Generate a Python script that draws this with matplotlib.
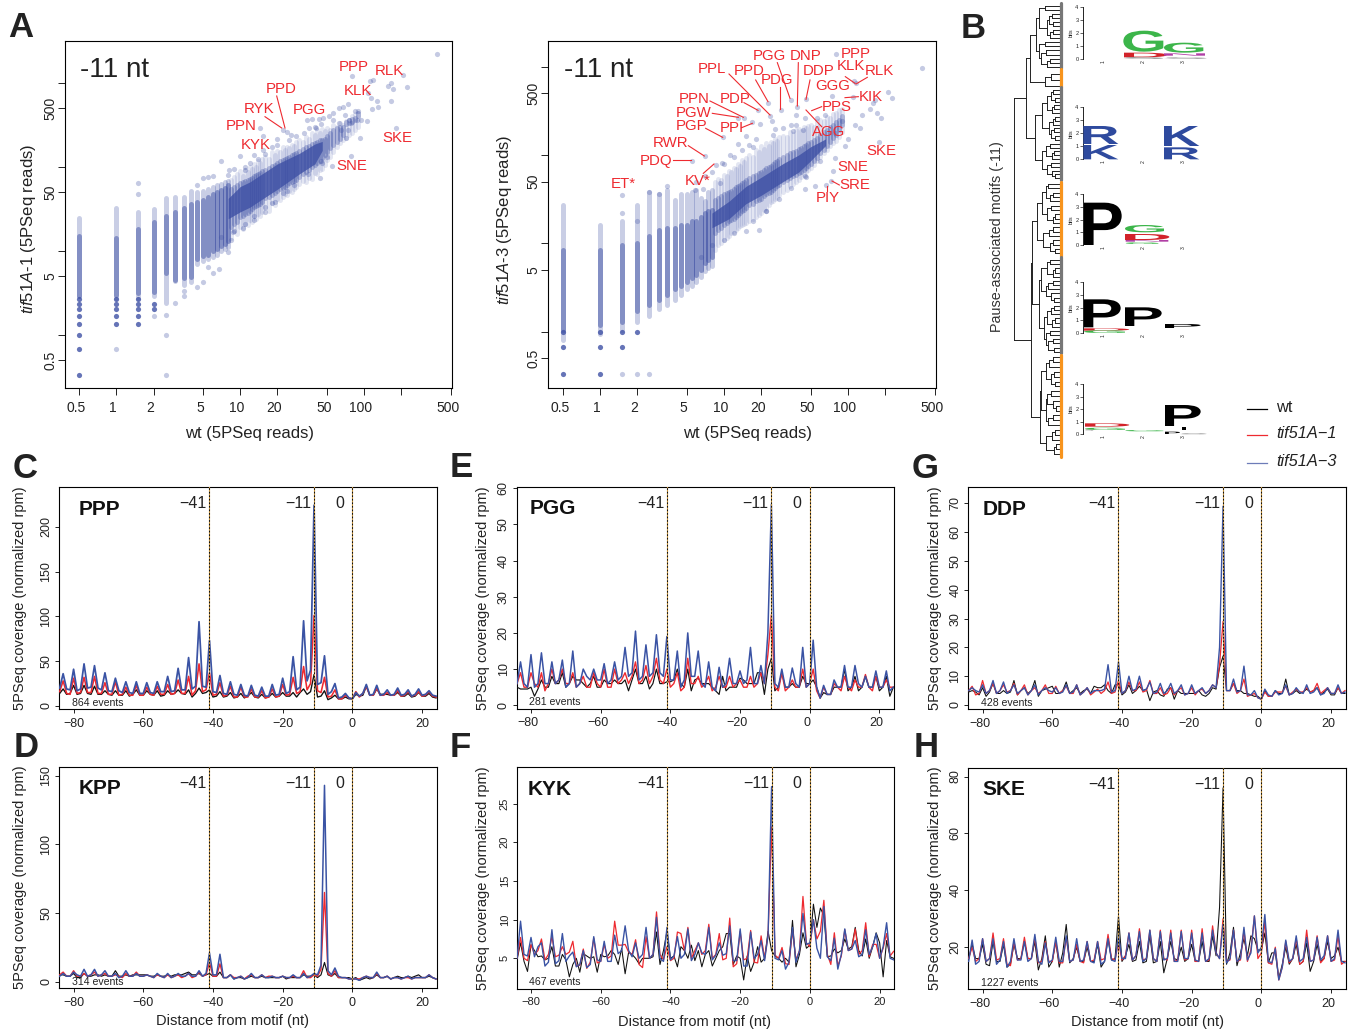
import numpy as np
import matplotlib
matplotlib.use('Agg')
import matplotlib.pyplot as plt
from matplotlib.patheffects import AbstractPathEffect
from matplotlib.transforms import Affine2D, ScaledTranslation

plt.rcParams['font.family'] = ['Liberation Sans', 'DejaVu Sans']
plt.rcParams['mathtext.fontset'] = 'custom'
plt.rcParams['mathtext.it'] = 'Liberation Sans:italic'
plt.rcParams['mathtext.rm'] = 'Liberation Sans'
plt.rcParams['axes.linewidth'] = 0.8
plt.rcParams['text.color'] = '#222222'
plt.rcParams['xtick.color'] = '#222222'
plt.rcParams['ytick.color'] = '#222222'
plt.rcParams['axes.labelcolor'] = '#222222'

# ---------------- scatter data (wt vs tif51A-1) ----------------
COL_X = [0.5, 1, 1.5, 2, 2.5, 3, 3.5, 4, 4.5, 5, 5.5, 6, 6.5, 7, 7.5, 8]
A_SPARSE_HI = [24.5, 32, 29, 31, 42, 44, 44, 51, 50, 52, 55, 58, 60, 62, 65, 68]
A_DENSE_HI = [14.8, 14, 18, 22, 26, 29, 32, 36, 38, 40, 44, 47, 50, 53, 56, 60]
A_DENSE_LO = [2.9, 3.0, 3.1, 3.2, 5.4, 4.5, 4.7, 4.9, 8, 8.6, 9, 10, 10.5, 11.3, 12, 13]
A_SPARSE_LO = [2.9, 2.7, 2.7, 2.9, 2.4, 4.4, 3.9, 4.2, 7, 7.5, 8, 8.5, 9, 10, 10.5, 11]
BIN_X = [8.5, 9, 9.5, 10, 10.5, 11, 11.5, 12, 12.5, 13, 13.5, 14, 14.5, 15, 16, 17, 18, 19, 20, 21, 22, 23, 24, 25, 26,
         27, 28, 30, 32, 34, 36, 38, 40, 42, 44, 46, 48, 50, 53, 56, 60, 64, 68, 72, 76, 80, 85, 90]
A_HALO_HI = [70, 76, 82, 88, 78, 92, 86, 100, 94, 108, 100, 118, 110, 122, 130, 125, 150, 138, 155, 148, 170, 160, 172,
             165, 182, 176, 195, 205, 195, 225, 215, 250, 240, 270, 255, 280, 265, 290, 270, 310, 300, 330, 310, 350,
             330, 400, 420, 440]
A_HALO_LO = [14, 17, 16, 19, 18, 21, 20, 23, 22, 26, 24, 27, 26, 29, 32, 30, 37, 35, 41, 40, 44, 47, 46, 52, 50, 55, 58,
             62, 68, 66, 74, 72, 84, 82, 92, 95, 105, 120, 130, 150, 170, 190, 210, 220, 240, 250, 270, 300]
A_DENSE2_HI = [55, 58, 60, 64, 66, 68, 70, 72, 74, 78, 80, 82, 84, 88, 92, 96, 102, 106, 112, 116, 120, 122, 128, 132,
               138, 140, 146, 155, 162, 170, 178, 186, 192, 198, 205, 210, 215, 235, 255, 270, 285, 295, 300, 340, 355,
               365, 380, 430]
A_DENSE2_LO = [19, 21, 22, 25, 26, 27, 28, 30, 31, 33, 34, 35, 36, 38, 42, 44, 46, 48, 52, 54, 56, 58, 60, 64, 66, 68,
               70, 76, 82, 86, 92, 98, 104, 110, 118, 126, 138, 150, 165, 180, 195, 215, 240, 320, 335, 345, 360, 400]
A_CORE_X = [8, 10, 12, 15, 20, 30, 40, 46]
A_CORE_HI = [42, 58, 66, 82, 108, 144, 186, 200]
A_CORE_LO = [24, 29, 33, 41, 54, 82, 108, 156]
A_STACK_X = [.5, .5, .5, .5, .5, .5, .5, .5, 1, 1, 1, 1, 1, 1.5, 1.5, 1.5, 1.5, 1.5, 2, 2]
A_STACK_Y = [.33, .67, 1, 1.33, 1.67, 2, 2.33, 2.67, 1.33, 1.67, 2, 2.33, 2.67, 1.33, 1.67, 2, 2.33, 2.67, 2, 2.33]
A_OUT_X = [388, 80.5, 118, 112, 208, 156, 166, 170, 221, 107, 113, 127, 166, 129, 115, 74, 63, 68, 105, 180, 92, 72,
           78, 55, 44, 46, 22, 19, 15.8, 12.9, 10.5, 8.8, 8.4, 8, 6.8, 6, 5.5, 5, 4.5, 3.5, 3.5, 3, 2, 2.5, 2.5, 1,
           1.5, 1.5, 2.5, 7, 10, 14.4, 15.3, 19.7, 22, 24, 25.5, 15.3, 13, 8.2, 5, 5.5, 4.5, 11, 34.7, 38, 43, 47, 52,
           36, 41, 56, 56, 70, 76, 85, 90, 87, 95, 74, 65, 79, 63,
           7, 9, 11, 13, 16, 18, 24, 27, 35, 45, 50, 6, 8, 9, 11, 12, 14, 16, 18, 20, 25, 28, 33, 40, 45]
A_OUT_Y = [2213, 1213, 1087, 1040, 1230, 925, 1000, 850, 900, 755, 650, 610, 610, 520, 485, 565, 500, 515, 348, 285,
           220, 218, 135, 101, 73, 110, 49, 38, 29, 23, 18.7, 16.8, 13.3, 9.6, 6, 5.4, 6.4, 4.3, 3.7, 3.3, 2.9, 2.4,
           1.67, 1, .33, .67, 64, 47, 1.7, 118, 133, 288, 234, 215, 275, 257, 238, 160, 139, 92, 73, 75, 61, 92, 363,
           368, 368, 380, 398, 290, 290, 363, 435, 415, 363, 456, 456, 363, 363, 275, 275, 330, 330,
           14.5, 17, 21, 26, 33, 37, 52, 60, 82, 118, 130, 78, 80, 95, 100, 110, 125, 140, 170, 180, 205, 230, 250, 300, 320]

# ---------------- scatter data (wt vs tif51A-3) ----------------
B_SPARSE_HI = [27, 16, 18, 27, 38, 36, 40, 31, 36, 36, 38, 40, 33, 30, 38, 40]
B_DENSE_HI = [8.4, 8.4, 9.6, 10, 12, 14, 15, 15, 16, 16, 18, 18, 20, 22, 23, 24]
B_DENSE_LO = [1.04, 1.2, 1.3, 1.7, 2, 2.3, 2.6, 3, 3.3, 3.6, 4, 4.4, 5, 6, 6.5, 7]
B_SPARSE_LO = [.8, .95, 1.04, 1.3, 1.5, 1.8, 2, 2.3, 2.6, 3, 3.3, 3.6, 4.2, 4.8, 5.3, 5.5]
B_HALO_HI = [50, 54, 52, 60, 58, 66, 64, 72, 70, 80, 76, 88, 84, 92, 100, 96, 115, 108, 125, 118, 135, 128, 140, 135,
             150, 145, 160, 165, 160, 180, 175, 190, 195, 185, 205, 200, 215, 220, 210, 240, 250, 245, 270, 265, 290,
             300, 320, 330]
B_HALO_LO = [8.5, 9.5, 10, 11, 11.5, 12, 13, 13.5, 14, 15, 15.5, 16, 16.5, 17, 18, 19, 20, 21, 22, 24, 25, 27, 29, 30,
             32, 33, 35, 38, 40, 44, 47, 50, 52, 56, 60, 65, 68, 72, 78, 85, 95, 105, 115, 125, 135, 145, 160, 180]
B_DENSE2_HI = [31, 33, 34, 36, 37, 38, 39, 41, 43, 45, 46, 48, 50, 52, 55, 58, 60, 63, 65, 68, 72, 74, 76, 80, 84, 86,
               90, 95, 100, 104, 108, 112, 116, 120, 125, 130, 135, 140, 148, 155, 170, 180, 190, 205, 220, 235, 250, 275]
B_DENSE2_LO = [13, 14, 15, 16, 17, 18, 18.5, 19, 20, 21, 22, 23, 24, 25, 27, 28, 30, 31, 32, 34, 36, 37, 38, 40, 42, 44,
               46, 49, 52, 55, 58, 60, 62, 65, 68, 72, 76, 80, 86, 92, 105, 115, 125, 140, 155, 170, 190, 220]
B_CORE_X = [8, 11, 15, 20, 30, 40, 50, 66]
B_CORE_HI = [22, 30, 44, 56, 80, 100, 124, 152]
B_CORE_LO = [15, 19, 28, 35, 50, 64, 86, 128]
B_STACK_X = [.5, .5, .5, 1, 1, 1, 1.5, 1.5, 2]
B_STACK_Y = [.33, .67, 1, .33, .67, 1, .67, 1, 1]
B_OUT_X = [393, 80, 116, 112, 209, 225, 165, 158, 109, 74, 46, 34.5, 22.6, 39, 28.6, 18.8, 23.5, 24.6, 14.5, 13, 16.9,
           19.5, 25.7, 9.8, 7, 5.5, 1.5, 3.5, 3, 2.5, 9.6, 8.7, 13, 11.2, 17, 15, 179, 78, 76, 73, 67, 54, 45, 46, 95,
           79, 114, 129, 89, 65, 38, 45, 56, 38, 43, 36, 19, 15, 22, 6.8, 5.8, 9.3, 1.5, 2, 2.5, 1.5, 2,
           6, 7, 8, 10, 12, 14, 16, 18, 25, 30, 35, 6.5, 8, 10, 12, 17, 22, 28, 35, 45, 60, 150, 170, 185, 125, 100]
B_OUT_Y = [957, 1393, 650, 690, 513, 437, 417, 390, 450, 470, 427, 417, 390, 354, 320, 320, 280, 245, 265, 265, 237,
           222, 197, 159, 97, 85, 35, 45, 36, 38, 82, 77, 132, 100, 123, 165, 141, 92, 66, 51, 46, 45, 41, 57, 125,
           176, 217, 281, 245, 281, 281, 260, 260, 218, 192, 187, 14, 13.6, 23, 41, 40, 48, .33, .33, .33, 22, 18,
           50, 58, 65, 80, 95, 115, 130, 150, 170, 200, 220, 7, 9.5, 11, 13, 18, 23, 32, 42, 58, 85, 330, 300, 260, 200, 150]

# ---------------- profile data, x = -84 ... 24 ----------------
POS = list(range(-84, 25))
C_BLUE = [20, 36,19,18, 41,17,19, 47,20,21, 45,20,18, 37,17,16, 31,17,15, 27,15,14, 27,14,14, 26,15,14, 27,16,16,
          33,16,17, 42,18,18, 54,19,22, 94,22,21, 73,16,15, 34,14,13, 27,13,12, 24,12,11, 23,12,11, 21,11,11, 24,12,13,
          31,14,16, 55,18,21, 95,28,40, 224,24,26, 56,13,16, 25,9,10, 14,9,8, 15,11,14, 24,12,13, 23,12,13, 18,12,13,
          20,12,13, 18,11,13, 19,12,13, 17,12,11]
C_RED = [16, 28,14,13, 31,14,15, 32,15,15, 33,14,14, 26,13,13, 27,12,13, 21,12,12, 23,12,12, 21,13,12, 22,13,13,
         24,13,14, 29,14,14, 33,12,17, 47,16,18, 37,12,13, 26,11,12, 22,10,10, 21,10,10, 19,10,10, 17,9,10, 19,10,11,
         24,12,13, 32,14,16, 44,18,25, 101,17,15, 32,10,11, 18,8,8, 12,9,8, 16,10,14, 22,12,12, 20,12,12, 15,12,12,
         17,11,12, 16,11,12, 16,11,12, 16,11,10]
C_BLACK = [14, 19,13,14, 23,13,14, 23,14,13, 22,13,13, 17,13,12, 17,12,12, 17,11,13, 18,12,12, 17,13,12, 17,11,12,
           17,13,14, 18,14,13, 18,10,14, 20,14,15, 18,10,11, 16,10,11, 15,9,10, 14,9,11, 15,10,9, 13,9,10, 14,10,11,
           15,11,11, 15,10,15, 19,13,16, 35,10,11, 17,7,9, 12,8,8, 10,8,8, 13,11,12, 22,12,12, 19,13,13, 13,12,12,
           15,11,11, 14,10,11, 15,11,11, 14,10,9]
D_BLUE = [4, 6,4,4, 7,5,4, 9,4,5, 9,4,5, 8,4,4, 6,3,4, 8,4,4, 6,4,4, 5,4,3, 6,4,3, 6,3,4, 6,4,4, 6,4,4, 8,4,6,
          21,5,5, 20,3,3, 5,2,3, 4,2,3, 6,3,3, 5,3,3, 4,3,3, 4,3,3, 5,3,3, 6,3,4, 6,5,12, 143,8,5, 10,4,3, 3,2,2,
          2,1,3, 4,3,3, 7,3,3, 4,2,3, 3,2,3, 4,2,3, 3,3,3, 5,3,2]
D_RED = [5, 7,4,4, 8,4,4, 6,4,5, 7,4,5, 6,4,4, 5,4,3, 6,4,4, 7,4,4, 5,4,3, 5,4,3, 5,3,4, 5,3,4, 6,3,4, 7,4,5,
         14,4,4, 13,3,3, 5,3,3, 4,2,4, 5,3,3, 5,3,4, 4,3,3, 4,3,3, 4,3,3, 8,3,3, 5,4,9, 65,6,4, 8,3,3, 3,2,2,
         2,2,3, 4,3,3, 6,3,3, 4,2,3, 3,2,3, 3,2,3, 3,3,3, 5,3,2]
D_BLACK = [5, 5,4,4, 6,3,3, 6,4,4, 5,5,4, 5,4,4, 8,4,4, 5,4,5, 5,5,5, 5,4,4, 5,4,4, 5,4,5, 5,5,6, 7,5,5, 6,4,5,
           6,4,4, 7,3,3, 5,2,3, 3,2,3, 4,3,3, 4,3,3, 3,3,3, 4,2,3, 3,3,3, 5,4,4, 5,3,5, 14,5,4, 6,3,3, 3,3,2,
           3,1,2, 3,2,3, 5,3,3, 4,2,3, 4,3,3, 4,3,4, 5,3,3, 4,3,2]
E_BLUE = [6, 12,6,5, 14,5,6, 14.5,6,6, 12,6,7, 12.5,5,6, 15,5,6, 10,8,7, 10,7,7, 11.5,6,7, 12,7,8, 16,8,9, 20.5,7,8,
          16.7,8,9, 19.5,9,8, 19,7,7, 15,5,7, 20,8,8, 15,6,5, 12,5,4, 10.5,5,6, 13,6,6, 9.5,6,7, 16,6,6, 11,6,20,
          55.5,6,5, 10,5,5, 10.3,6,5, 16,5,6, 18,5,2, 5.5,3,3, 7,5,5, 11,5,5, 11,6,5, 8,5,5, 9.5,5,5, 9.5,4,5]
E_RED = [6, 9,5,5, 9,6,5, 9,4,6, 10,6,7, 10,6,6, 9,5,6, 8,5,5, 9,6,5, 10,5,5, 10,6,7, 9,6,8, 12,6,7, 11,6,8, 13,7,6,
         10,5,6, 9,4,5, 13,6,6, 8,5,6, 8,4,5, 8,5,5, 8,5,6, 7,5,5, 8,5,6, 9,6,14, 25,5,4, 9,4,5, 7,5,5, 10,5,6,
         10,4,2, 5,3,3, 6,5,4, 8,5,4, 7,5,5, 8.5,5,4, 8,5,5, 7,5,5]
E_BLACK = [5, 4.5,4.5,4.5, 5,2.5,4.5, 7,5,5, 8,6,6, 9,5,6, 8,7,7, 6,5,6, 8,5,5, 7,6,6, 7,6,6, 7,4,7, 10,6,6, 8,4.5,6,
           10,6,6, 6.5,6.5,7, 10,6,5, 10,4,7, 7.5,6,6, 6,5,4, 3,8,4, 5,5,5, 7.5,7,6, 6,6,9, 9,3,10, 13,4,5, 9,5,5,
           6,5,5, 8,6,6, 7,5,2, 3.5,3,3, 5,5,5, 10,4,5, 8,4,5, 8,5,5, 8,4,5, 8,2.5,5]
F_BLUE = [5, 9.8,5.5,5.3, 7.7,5.2,6.5, 7,4,4.5, 8.7,4.3,4.7, 8.2,4.6,5.3, 5.8,3.9,4.2, 6,3.8,4.2, 7.8,4.8,4.6,
          7.2,4.6,4.6, 8,5.6,6, 9.2,6,5.2, 7,5,5.5, 9,5,5.5, 10.3,5,4.6, 9,4.8,5.3, 7.8,5,5.5, 8.8,4.7,5.5, 7,5.7,5.5,
          9,4.8,5.4, 7,5.4,5.6, 9.2,4.7,4.7, 8.8,4,4, 8.4,5,5.5, 7.3,4.7,8, 27.2,5,4.8, 6,3.6,4.5, 9,4.5,6, 10.8,6.8,7,
          10,6.3,5, 11.7,5.2,4.7, 7.6,3.6,5.5, 8.8,6,6.2, 7.3,5.2,5.5, 8.7,5.5,6.5, 8.2,5,6.5, 9.6,5,4.8]
F_RED = [5, 7.7,5,4.7, 6.8,5.5,6, 7.5,4.8,5.5, 7.8,5.2,5.4, 6.5,5.5,5.8, 7.2,4,4.1, 6.2,3.7,4.5, 7.6,4.4,4.6,
         6.8,5,5.3, 9.8,6.7,6.7, 6.8,5.8,5.5, 7.4,4.2,3.8, 7.8,5,5.5, 11,5.5,4.8, 6.5,4.7,5, 8.4,8.2,6, 9,5,6, 7,5.5,6,
         9.4,5,5.5, 8.2,4.8,5, 10.2,3.9,4.3, 8.5,4.8,5, 8.6,4.5,4.4, 7.9,5,8, 22,5.4,5, 6.4,4.3,4.2, 8.6,4.8,6, 13,7,6.5,
         10,7.5,8.5, 12.5,5.5,4.2, 8.3,4,5.3, 8.7,6,6.2, 8.8,5.5,6, 9.6,5.2,6.8, 6.8,5,6.3, 8.2,5.3,5.9]
F_BLACK = [4.8, 7,4.6,3.3, 6.7,6,5.2, 5.3,4.8,5, 6.5,4,4, 5.5,4.8,2.6, 4.2,5,3.2, 5.6,5.3,5, 5.2,3.2,5.5, 5.2,5.3,6,
           5.5,4.2,6.3, 3,5.8,5.5, 5,4.3,5, 5,5,5.2, 8.4,4.2,6, 8.5,5,5.3, 3.9,6.5,6, 5,6.7,4.7, 6,3.9,5.5, 6,4,5,
           6,6.5,8.2, 8.2,4.2,5.3, 5,2.2,5.3, 3.3,4.5,6.5, 4.5,5,8.5, 6,5.3,5, 4.5,5,4.5, 9.9,3.9,5.5, 8.3,6.3,6.7,
           12,9,11.5, 10.5,5.2,5.3, 6.2,5.7,6, 7.5,6.2,6.5, 9,6,5.3, 7.5,5,6.5, 8.3,7,2.6, 7.3,5.2,5]
G_BLUE = [5, 6,5,4.5, 7,4,5, 8.5,4,5, 8,4,5, 7,4,5, 6,3.5,5, 7,3.5,5, 6,5,4.5, 6,4,4.5, 7,4,4.5, 7,3.5,4.5, 6,4,5,
          5,5,5.5, 14,4.5,5, 15,4,5, 10,5,5.5, 10,5,5.5, 8,4,4.5, 7.5,4,5, 7.5,4,5, 7,3.5,4, 7,4,5, 6,4,5, 7,6,20,
          69,5,5, 9,4.5,5, 13.5,3.5,3.5, 5,2.5,2, 5.5,3.5,3, 5,3.5,4, 7,3.5,4, 6,4.5,4, 7,4,4.5, 6,3.5,4, 6,4,4, 7,4,4.5]
G_RED = [5, 6.5,3.5,4, 8.5,4,5, 7.5,4,5, 7,4.5,5, 7.5,3.5,5, 7,3.5,5, 6,4,5, 7,4,4, 6.5,4,5, 6.5,4,4, 7,3.5,4.5,
         6,3.5,4.5, 5.5,4,5, 8,4,4.5, 8.5,4,5, 8,5,5, 8,4.5,5, 8.5,4,4, 6,3.5,4, 6,3.5,5, 6,3.5,4, 6,3.5,5, 5.5,4,5,
         7,6,14, 29,5,5, 7.5,4,5, 9,3,3.5, 4,2.5,2, 4.5,3,3, 4.5,4.5,4.5, 6.5,3.5,4.5, 5.5,4.5,4.5, 6,4.5,5, 7.5,4,5,
         6,4,4, 6,4,5]
G_BLACK = [4.5, 5,4.5,3.5, 6,3,4.5, 7.5,4,4, 5,4,4.5, 8.5,3.5,5, 6,4,5, 8.5,3,5, 5.5,6,6.5, 4,4,5, 8,4,5, 6,4,5,
           5.5,4,6.5, 6,6,7, 5,4,7, 7,3.5,4.5, 7,4,5, 6.5,5,5.5, 1.5,4.5,5, 3.5,3,5.5, 6,2,5, 4,4,4, 4,4,5, 3.5,3,4,
           6,5.5,13, 17,5,5, 7.5,5,5, 4,4,3.5, 3,3,2, 5,3,3, 5,4,4, 9,3.5,4, 5,4,4.5, 5.5,4.5,5, 6,3.5,4.5,
           5.5,3.5,3.5, 6,4,4]
H_BLUE = [15, 22.5,14,15, 23,15,16, 23,14,15.5, 22,13,15, 23,15.5,15.5, 22,15,16, 24.5,15,14, 21.5,14.5,15.5,
          23.5,15,15, 24,15,15.5, 23,15,15.5, 22,15,14.5, 22,14,15, 23,15.5,15, 24,16,16, 25,15.5,17, 25.5,15,16,
          26,16,15, 25.5,15.5,16, 25,15,15, 25.5,16,16, 25,15.5,15, 25,15,16, 26,18,16, 28,14.5,16, 26,15,16,
          27,15.5,18, 31,18,20, 31.5,15,14.5, 19.5,8.5,13, 22.5,15,16, 24,15,16, 23.5,15,15.5, 23.5,15.5,17,
          24,15,16, 26,15,14.5]
H_RED = [16, 20,15,16, 23,15,16, 25,15.5,16, 23,14,13.5, 22,15.5,16, 23.5,16,16, 23.5,14.5,15, 22,15,15, 22,14.5,14.5,
         23.5,15,15.5, 21,15,14.5, 22,15,15.5, 22,15.5,16, 24.5,16,15.5, 22,15.5,17, 25,15.5,17, 26.5,15.5,16, 26,16,15,
         26,16,15.5, 26,15,15.5, 26,15.5,16, 26,15,15, 26.5,15,15.5, 27.5,18,16, 30,15,15.5, 26,15,15.5, 26,15,19,
         31,16,18, 29,14.5,14, 20,8.5,13, 22,14.5,16, 23,14,15, 26,15,15.5, 24,14.5,16, 24,15,15.5, 24,14,15]
H_BLACK = [16, 21,16,16, 21,14,13.5, 22,15,15, 21,13,14, 21,16,16, 22,16,16, 22,12,16, 24,13,15, 22,13,18, 28,14.5,16,
           20,15,15, 20,15,15, 21,13,15, 23,15.5,16, 31,15,17, 21,15,15.5, 22,14.5,15, 24,14.5,15, 22,11,16, 22,16,15.5,
           20,15,16, 21,15,15, 22,15,15, 24,17,34, 76,14,18, 27,13.5,18, 23,17,24, 23,19,19, 25,14.5,18, 18,9,14,
           20,14,16, 21,14,15, 21.5,11.5,15, 21,15,16, 22,16,17, 20,15,15]

BLUE, RED, INK = '#3a53a4', '#ee2a30', '#111111'
W, H = 1352, 1031
fig = plt.figure(figsize=(W / 100, H / 100), dpi=100, facecolor='white')


def px_axes(x0, y0, x1, y1):
    return fig.add_axes([x0 / W, 1 - y1 / H, (x1 - x0) / W, (y1 - y0) / H])


def shift_x(labels, dx):
    for t in labels:
        t.set_transform(t.get_transform() + ScaledTranslation(dx / 100, 0, fig.dpi_scale_trans))


# ---------------- scatter panels ----------------
def scatter_panel(box, xlim, ylim, sp_hi, de_hi, de_lo, sp_lo, hh, hl, mh, ml, cx, ch, cl, sx, sy, ox, oy, ylab, ylx, yly, xlx):
    ax = px_axes(*box)
    ax.set_xscale('log'); ax.set_yscale('log')
    ax.set_xlim(10 ** xlim[0], 10 ** xlim[1]); ax.set_ylim(10 ** ylim[0], 10 ** ylim[1])
    c = '#3f51a5'
    ax.vlines(BIN_X, hl, hh, color=c, alpha=.14, lw=3.6, capstyle='round', zorder=1)
    ax.vlines(BIN_X, ml, mh, color=c, alpha=.33, lw=3.6, capstyle='round', zorder=1.1)
    ax.fill_between(cx, cl, ch, color=c, alpha=.82, lw=0, zorder=1.2)
    ax.vlines(COL_X, sp_lo, sp_hi, color=c, alpha=.28, lw=3.6, capstyle='round', zorder=2)
    ax.vlines(COL_X, de_lo, de_hi, color=c, alpha=.5, lw=3.6, capstyle='round', zorder=2.1)
    ax.scatter(sx, sy, s=14, color=c, alpha=.8, lw=0, zorder=3)
    ax.scatter(ox, oy, s=14, color=c, alpha=.3, lw=0, zorder=3)
    ax.set_xticks([.5, 1, 2, 5, 10, 20, 50, 100, 200, 500],
                  ['0.5', '1', '2', '5', '10', '20', '50', '100', '', '500'], fontsize=10)
    ax.set_yticks([.5, 1, 5, 10, 50, 100, 500, 1000], ['0.5', '', '5', '', '50', '', '500', ''],
                  rotation=90, va='center', fontsize=10)
    ax.minorticks_off()
    ax.tick_params(axis='y', length=5, width=.7, pad=.5)
    ax.tick_params(axis='x', length=5, width=.7, pad=4)
    shift_x(ax.get_xticklabels(), -3)
    ax.set_xlabel('wt (5PSeq reads)', fontsize=12, va='center')
    ax.xaxis.set_label_coords(xlx, -0.13)
    ax.set_ylabel(ylab, fontsize=12, va='center')
    ax.yaxis.set_label_coords(ylx, yly)
    ax.text(.04, .915, '-11 nt', transform=ax.transAxes, fontsize=20, va='center', color='#222222')
    return ax


scatter_panel((65, 41, 452, 388), (-.414, 2.71), (-.634, 3.496), A_SPARSE_HI, A_DENSE_HI, A_DENSE_LO, A_SPARSE_LO,
              A_HALO_HI, A_HALO_LO, A_DENSE2_HI, A_DENSE2_LO, A_CORE_X, A_CORE_HI, A_CORE_LO,
              A_STACK_X, A_STACK_Y, A_OUT_X, A_OUT_Y,
              r'$\mathit{tif51A}$-$\mathit{1}$ (5PSeq reads)', -.095, .458, .476)
scatter_panel((548, 41, 936, 388), (-.419, 2.71), (-.639, 3.291), B_SPARSE_HI, B_DENSE_HI, B_DENSE_LO, B_SPARSE_LO,
              B_HALO_HI, B_HALO_LO, B_DENSE2_HI, B_DENSE2_LO, B_CORE_X, B_CORE_HI, B_CORE_LO,
              B_STACK_X, B_STACK_Y, B_OUT_X, B_OUT_Y,
              r'$\mathit{tif51A}$-$\mathit{3}$ (5PSeq reads)', -.111, .485, .514)


# ---------------- profile panels ----------------
def profile(box, ylim, yticks, blue, red, black, title, events, ylx, xl=None, dx=0, tick_fs=9, ytick_fs=9, lw=1.0, tx=.05):
    ax = px_axes(*box)
    ax.plot(POS, black, color=INK, lw=lw * .85, zorder=3)
    ax.plot(POS, red, color=RED, lw=lw, zorder=4)
    ax.plot(POS, blue, color=BLUE, lw=lw * 1.1, zorder=5)
    for v in (-41, -11, 0):
        ax.axvline(v, color='#c9953a', lw=.8, zorder=6)
        ax.axvline(v, color='#111111', lw=.75, ls=(0, (1.6, 1.8)), zorder=7)
    ax.set_xlim(-84.1, 24.2); ax.set_ylim(*ylim)
    ax.set_xticks(range(-80, 21, 20))
    ax.set_yticks(yticks)
    ax.tick_params(axis='x', labelsize=tick_fs, length=3, width=.7, pad=3)
    ax.tick_params(axis='y', labelsize=ytick_fs, length=3, width=.7, pad=2)
    for t in ax.get_yticklabels():
        t.set_rotation(90); t.set_va('center')
    if dx:
        shift_x(ax.get_xticklabels(), dx)
    ax.set_ylabel('5PSeq coverage (normalized rpm)', fontsize=10.5, va='center')
    ax.yaxis.set_label_coords(ylx, .5)
    if xl is not None:
        ax.set_xlabel('Distance from motif (nt)', fontsize=10.5, va='center')
        ax.xaxis.set_label_coords(xl, -.148)
    tr = ax.get_xaxis_transform()
    ax.text(-41.8, .925, '\u221241', transform=tr, ha='right', va='center', fontsize=11.5, zorder=8)
    ax.text(-11.8, .925, '\u221211', transform=tr, ha='right', va='center', fontsize=11.5, zorder=8)
    ax.text(-3.7, .925, '0', transform=tr, ha='center', va='center', fontsize=11.5, zorder=8)
    ax.text(tx, .90, title, transform=ax.transAxes, fontsize=15, fontweight='bold', va='center', color='#111111', zorder=8)
    ax.text(.033, .03, events, transform=ax.transAxes, fontsize=7.6, va='center', color='#222222', zorder=8)


profile((59.3, 487.3, 436.7, 709.3), (-3.7, 244), [0, 50, 100, 150, 200], C_BLUE, C_RED, C_BLACK, 'PPP', '864 events', -.103, lw=1.15)
profile((59.3, 766.7, 436.7, 988.3), (-4.8, 156.6), [0, 50, 100, 150], D_BLUE, D_RED, D_BLACK, 'KPP', '314 events', -.103, xl=.458)
profile((516.7, 486.7, 894, 708.7), (-.94, 60.4), [0, 10, 20, 30, 40, 50, 60], E_BLUE, E_RED, E_BLACK, 'PGG', '281 events', -.090, dx=-3, tx=.035)
profile((516.7, 767.3, 894.3, 989), (1.03, 29.7), [5, 10, 15, 20, 25], F_BLUE, F_RED, F_BLACK, 'KYK', '467 events', -.089, xl=.472, tick_fs=8, ytick_fs=8, lw=.9, tx=.03)
profile((968.3, 487.3, 1345.7, 709.3), (-1.5, 75.6), [0, 10, 20, 30, 40, 50, 60, 70], G_BLUE, G_RED, G_BLACK, 'DDP', '428 events', -.088, dx=-3, lw=.9, tx=.0385)
profile((968.3, 767.7, 1345.7, 989.3), (5.2, 83.1), [20, 40, 60, 80], H_BLUE, H_RED, H_BLACK, 'SKE', '1227 events', -.088, xl=.474, dx=-3, lw=.9, tx=.0385)

# ---------------- logo axes (panel B) ----------------
LOGO_SPANS = [(22, 176), (322, 478), (582, 735), (845, 1000), (1152, 1303)]
for top, bot in LOGO_SPANS:
    lax = px_axes(1082.7, top / 3, 1206, bot / 3)
    lax.set_ylim(0, 4); lax.set_xlim(.485, 3.57)
    lax.patch.set_visible(False)
    for s in ('top', 'right', 'bottom'):
        lax.spines[s].set_visible(False)
    lax.spines['left'].set_linewidth(.6)
    lax.set_yticks([0, 1, 2, 3, 4])
    lax.set_xticks([1, 2, 3])
    lax.set_xticklabels(['1', '2', '3'], rotation=90)
    lax.tick_params(axis='y', labelsize=4, length=2, width=.5, pad=1)
    lax.tick_params(axis='x', labelsize=3.6, length=0, pad=1)
    lax.set_ylabel('bits', fontsize=4, labelpad=1)


# ---------------- overlay (labels, dendrogram, logos, legend) ----------------
ov = fig.add_axes([0, 0, 1, 1], zorder=20)
ov.set_xlim(0, W); ov.set_ylim(H, 0)
ov.axis('off')
ov.patch.set_visible(False)

for s, x, y in [('A', 8, 37), ('B', 961, 38), ('C', 13, 478), ('D', 14, 757), ('E', 450, 477), ('F', 450, 757),
                ('G', 912, 478), ('H', 914, 757)]:
    ov.text(x, y, s, fontsize=25, fontweight='bold', va='baseline', color='#222222')

LABELS_1 = [('PPP', 354, 67), ('RLK', 389, 71), ('KLK', 358, 91), ('PPD', 281, 89), ('RYK', 259, 109), ('PGG', 309, 110),
            ('PPN', 241, 126), ('KYK', 256, 145), ('SKE', 397, 138), ('SNE', 352, 166)]
LEADERS_1 = [(276.7, 96, 285, 128), (265, 116.7, 281.7, 128)]
LABELS_2 = [('PGG', 769, 56), ('DNP', 805.7, 56), ('PPP', 855.3, 54), ('PPL', 712, 69), ('PPD', 749, 70.7), ('KLK', 851.3, 66),
            ('RLK', 879.3, 70.7), ('DDP', 818.7, 70.7), ('PDG', 777.3, 80), ('GGG', 832.7, 85.7), ('KIK', 871.3, 96.7),
            ('PPN', 694, 99), ('PDP', 734.7, 99), ('PPS', 836.7, 106.7), ('PGW', 693.3, 113), ('PGP', 692, 125.7),
            ('PPI', 731.7, 127.7), ('AGG', 828.7, 131.7), ('RWR', 670.7, 142.7), ('SKE', 881, 150.7), ('PDQ', 655.7, 161),
            ('SNE', 852.3, 166.7), ('KV*', 697.3, 180.7), ('ET*', 623, 184), ('SRE', 854.7, 184.7), ('PIY', 828, 197.7)]
LEADERS_2 = [(712, 98, 750, 205), (775, 98, 772, 228), (567, 132, 690, 255), (647, 150, 684, 215), (810, 150, 798, 208),
             (720, 172, 720, 238), (916, 140, 945, 160), (982, 142, 948, 162), (955, 200, 915, 203), (510, 213, 610, 262),
             (612, 218, 654, 241), (845, 230, 815, 242), (517, 250, 595, 262), (497, 295, 548, 322), (637, 280, 605, 293),
             (845, 290, 798, 240), (445, 347, 493, 378), (400, 391, 452, 391), (490, 430, 522, 402), (898, 465, 876, 453),
             (860, 482, 860, 468)]
for s, x, y in LABELS_1 + LABELS_2:
    ov.text(x, y, s, color='#ee2a30', fontsize=10.8, ha='center', va='center')
for x0, y0, x1, y1 in LEADERS_1:
    ov.plot([x0, x1], [y0, y1], color='#ee2a30', lw=.8)
for x0, y0, x1, y1 in LEADERS_2:
    ov.plot([540 + x0 / 3, 540 + x1 / 3], [30 + y0 / 3, 30 + y1 / 3], color='#ee2a30', lw=.8)

# dendrogram: node = (merge position, child, child), leaf = 0
TREE_1 = (229, (236, (255, 0, 0), (262, (268, (275, 0, 0), (280, 0, 0)), (270, (278, 0, 0), 0))),
          (238, (255, 0, 0), (242, (258, 0, 0), (262, (270, 0, 0), 0))))
TREE_2 = (256, (272, 0, 0), 0)
TREE_3 = (225, (245, (262, (272, (280, 0, 0), (285, 0, 0)), (275, (283, 0, 0), 0)),
                (268, (278, (285, 0, 0), 0), (272, (282, 0, 0), (284, 0, 0)))),
          (245, (258, (270, 0, 0), (275, (283, 0, 0), 0)), (262, (272, 0, 0), (276, 0, (285, 0, 0)))))
TREE_4 = (232, (247, (258, (265, 0, 0), (270, (280, 0, 0), 0)), (262, (272, 0, 0), (278, (285, 0, 0), 0))),
          (248, (268, (280, 0, 0), 0), (270, (280, 0, 0), (285, 0, 0))))
TREE_5 = (238, (242, (262, (270, 0, 0), (278, (285, 0, 0), 0)), (258, (265, (280, 0, 0), 0), (272, 0, (283, 0, 0)))),
          (252, (262, (272, (282, 0, 0), 0), (275, (285, 0, 0), 0)), (258, (270, 0, 0), (265, (278, 0, 0), (282, 0, 0)))))
TREE_6 = (240, (244, (258, (268, (278, 0, 0), 0), (272, (282, 0, 0), (285, 0, 0))),
                (258, (262, (272, 0, 0), (278, 0, (287, 0, 0))), (265, (280, 0, 0), 0))),
          (258, (275, (285, 0, 0), 0), (282, (288, 0, 0), 0)))
CLUSTER_SPANS = [(18, 200), (222, 258), (270, 535), (552, 760), (780, 1055), (1072, 1362)]
CLUSTERS = [TREE_1, TREE_2, TREE_3, TREE_4, TREE_5, TREE_6]


def n_leaves(t):
    return 1 if t == 0 else n_leaves(t[1]) + n_leaves(t[2])


leaf_y = []
for t, (a, b) in zip(CLUSTERS, CLUSTER_SPANS):
    leaf_y += list(np.linspace(a, b, n_leaves(t)))
leaf_iter = iter(leaf_y)
LEAF = 296


def draw(t):
    if t == 0:
        return next(leaf_iter), LEAF
    ya, xa = draw(t[1])
    yb, xb = draw(t[2])
    x = t[0]
    kw = dict(color='#222222', lw=.7, solid_capstyle='projecting')
    ov.plot([960 + x / 3] * 2, [ya / 3, yb / 3], **kw)
    ov.plot([960 + x / 3, 960 + xa / 3], [ya / 3] * 2, **kw)
    ov.plot([960 + x / 3, 960 + xb / 3], [yb / 3] * 2, **kw)
    return (ya + yb) / 2, x


draw((162, (199, (210, TREE_1, TREE_2), TREE_3), (213, (215, TREE_4, TREE_5), TREE_6)))

SIDEBARS = [(10, 205, '#777777'), (208, 260, '#f7941d'), (262, 540, '#777777'), (545, 768, '#f7941d'),
            (772, 1060, '#777777'), (1065, 1370, '#f7941d')]
for a, b, c in SIDEBARS:
    ov.plot([1061.3, 1061.3], [a / 3, b / 3], color=c, lw=2.3, solid_capstyle='round')


class FitBox(AbstractPathEffect):
    """Draw a text glyph stretched into a box given in figure pixels."""

    def __init__(self, x0, y0, x1, y1):
        super().__init__()
        self.box = (x0, y0, x1, y1)

    def draw_path(self, renderer, gc, tpath, affine, rgbFace=None):
        x0, y0, x1, y1 = self.box
        bb = tpath.get_extents()
        tr = Affine2D().translate(-bb.x0, -bb.y0).scale((x1 - x0) / bb.width, (y1 - y0) / bb.height).translate(x0, H - y1)
        renderer.draw_path(gc, tpath, tr, rgbFace)


GREEN, LRED, LBLUE, PURPLE, GREY = '#3cb54a', '#d2232a', '#2e4a9e', '#b03fa5', '#9a9a9a'
LOGO = [('G', 490, 92, 610, 155, GREEN), ('G', 612, 128, 730, 158, GREEN), ('D', 492, 158, 620, 172, LRED),
        ('N', 612, 160, 735, 167, PURPLE), ('S', 490, 171, 610, 177, GREY), ('S', 612, 172, 740, 177, GREY),
        ('R', 370, 378, 475, 432, LBLUE), ('K', 370, 435, 475, 478, LBLUE), ('K', 612, 378, 718, 438, LBLUE),
        ('R', 612, 442, 718, 478, LBLUE),
        ('P', 372, 608, 485, 735, '#000000'), ('G', 495, 675, 612, 697, GREEN), ('D', 495, 702, 628, 720, LRED),
        ('N', 497, 720, 625, 725, PURPLE), ('G', 497, 727, 595, 732, GREEN),
        ('P', 372, 898, 482, 982, '#000000'), ('D', 372, 985, 508, 992, LRED), ('G', 372, 991, 495, 999, GREEN),
        ('P', 495, 922, 605, 978, '#000000'), ('P', 615, 972, 722, 984, '#000000'),
        ('P', 615, 1215, 722, 1278, '#000000'), ('.', 665, 1280, 678, 1290, '#000000'), ('P', 615, 1295, 660, 1302, '#000000'),
        ('S', 660, 1299, 740, 1303, GREY), ('D', 375, 1270, 508, 1280, LRED), ('G', 375, 1283, 495, 1290, GREEN),
        ('S', 375, 1288, 400, 1292, GREY), ('G', 495, 1290, 610, 1294, GREEN)]
for ch, x0, y0, x1, y1, col in LOGO:
    t = ov.text(960 + x0 / 3, y1 / 3, ch, color=col, fontsize=3, fontweight='bold')
    t.set_path_effects([FitBox(960 + x0 / 3, y0 / 3, 960 + x1 / 3, y1 / 3)])

ov.text(996.5, 236.5, 'Pause-associated motifs (-11)', rotation=90, fontsize=10.4, ha='center', va='center', color='#333333')

LEGEND = [('wt', 409, '#000000', 'normal'), ('tif51A\u22121', 435, '#ee2a30', 'italic'), ('tif51A\u22123', 463, '#6d7cb8', 'italic')]
for s, y, c, st in LEGEND:
    ov.plot([1246.7, 1266.7], [y, y], color=c, lw=.9)
    ov.text(1276, y - 1, s, fontsize=11.8, style=st, va='center', color='#222222')

fig.savefig('out.png', dpi=100)
